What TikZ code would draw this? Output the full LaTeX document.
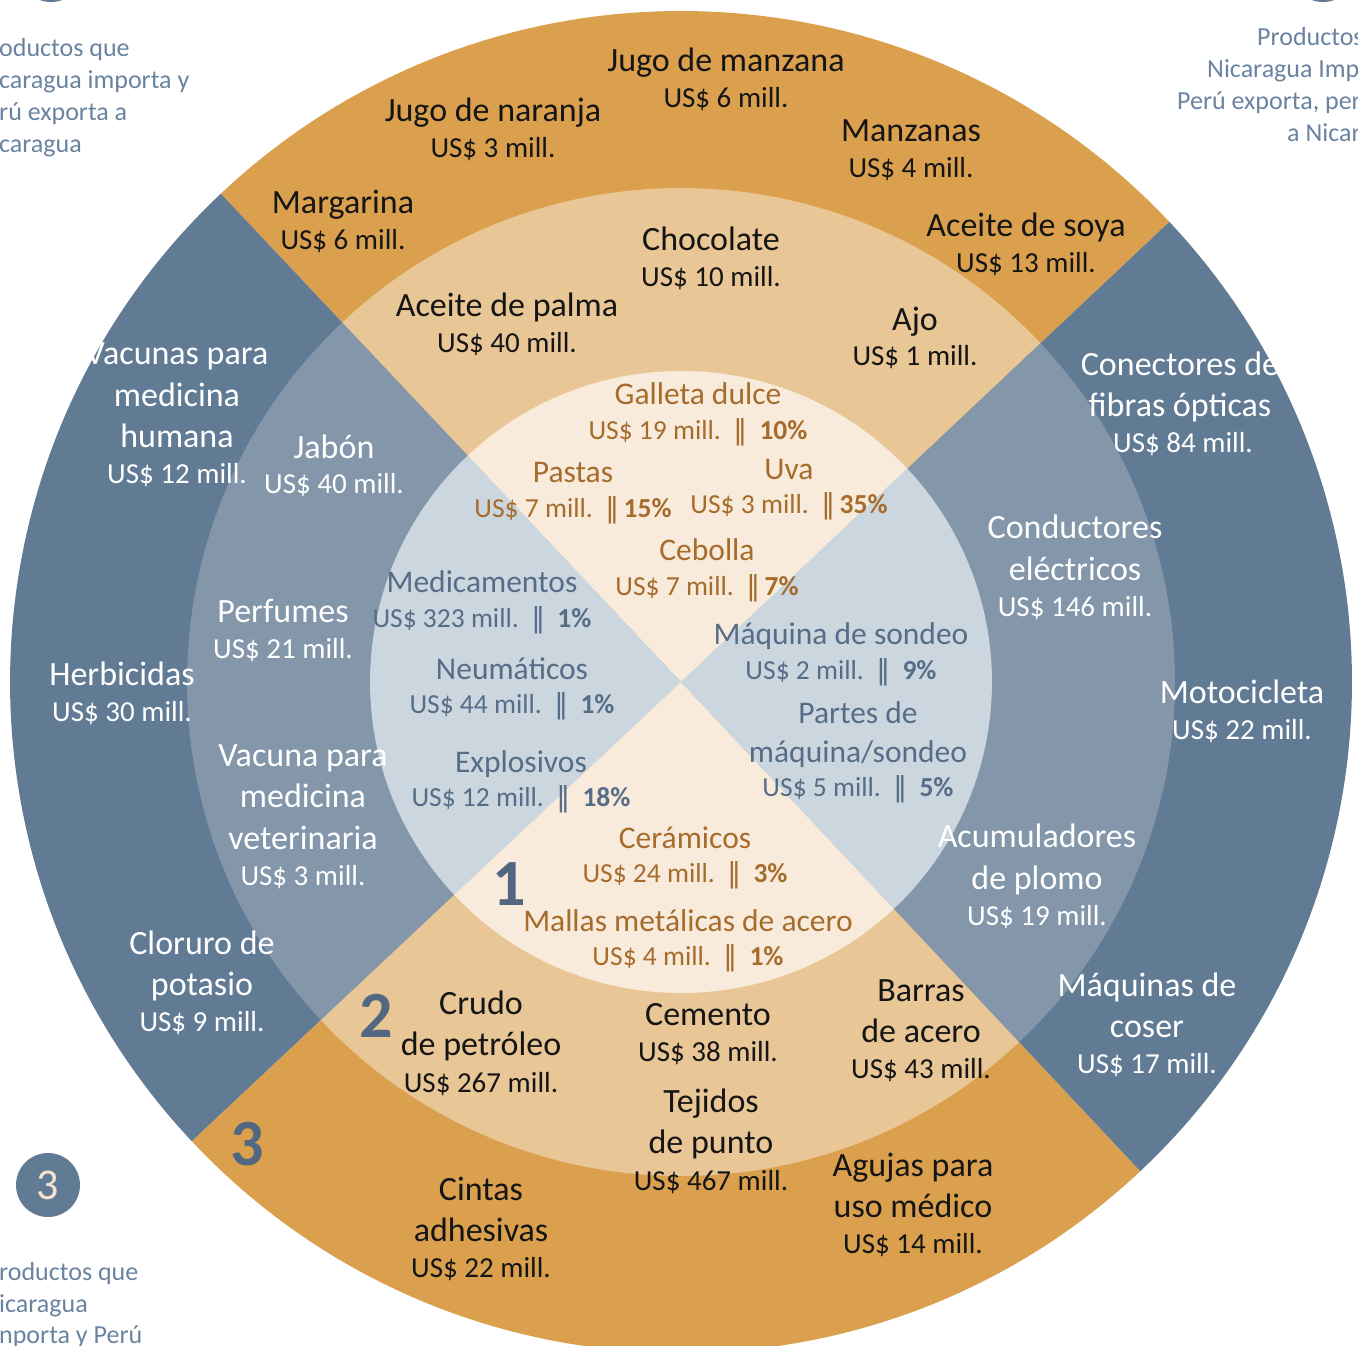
\documentclass[tikz,border=0pt]{standalone}
\usepackage{fontspec}
\setmainfont{Carlito}
\newfontfamily\dvs{DejaVu Sans}
\definecolor{oOut}{HTML}{DAA04D}
\definecolor{bOut}{HTML}{627B95}
\definecolor{oMid}{HTML}{E9C696}
\definecolor{bMid}{HTML}{8396AA}
\definecolor{oIn}{HTML}{F8EBDC}
\definecolor{bIn}{HTML}{CCD6DF}
\definecolor{txtBlack}{HTML}{151515}
\definecolor{txtBrown}{HTML}{A66C2C}
\definecolor{txtSlate}{HTML}{566D87}
\definecolor{numCol}{HTML}{526882}
\definecolor{sideCol}{HTML}{6A83A0}
\definecolor{cream}{HTML}{F2E4D0}
\newcommand\bars{{\dvs ‖}}
\begin{document}
\begin{tikzpicture}[x=1pt,y=1pt,
  lbl/.style={inner sep=0pt, text depth=0pt, anchor=center},
  nm/.style={lbl, text height=22.4pt, font=\fontsize{34}{40}\selectfont},
  vl/.style={lbl, text height=19.1pt, font=\fontsize{29}{34}\selectfont},
  nmi/.style={lbl, text height=20.8pt, font=\fontsize{31.5}{38}\selectfont},
  vli/.style={lbl, text height=18.2pt, font=\fontsize{27.5}{33}\selectfont},
  tblack/.style={text=txtBlack},
  twhite/.style={text=white},
  tbrown/.style={text=txtBrown},
  tslate/.style={text=txtSlate},
  num/.style={inner sep=0pt, text height=41.7pt, text depth=0pt, anchor=center,
    font=\fontsize{66}{70}\selectfont\bfseries, text=numCol},
  side/.style={inner sep=0pt, anchor=west, text height=13pt, text depth=0pt,
    font=\fontsize{26}{30}\selectfont, text=sideCol}
]
\useasboundingbox (0,0) rectangle (1358,-1346);
\clip (0,0) rectangle (1358,-1346);
\fill[white] (0,0) rectangle (1358,-1346);
\coordinate (C) at (681,-682);
% outer ring
\fill[oOut] (C) -- ++(43.3:671) arc[start angle=43.3,end angle=133.3,radius=671] -- cycle;
\fill[bOut] (C) -- ++(133.3:671) arc[start angle=133.3,end angle=223.2,radius=671] -- cycle;
\fill[oOut] (C) -- ++(223.2:671) arc[start angle=223.2,end angle=313.2,radius=671] -- cycle;
\fill[bOut] (C) -- ++(313.2:671) arc[start angle=313.2,end angle=403.3,radius=671] -- cycle;
% middle ring
\fill[oMid] (C) -- ++(43.3:494) arc[start angle=43.3,end angle=133.3,radius=494] -- cycle;
\fill[bMid] (C) -- ++(133.3:494) arc[start angle=133.3,end angle=223.2,radius=494] -- cycle;
\fill[oMid] (C) -- ++(223.2:494) arc[start angle=223.2,end angle=313.2,radius=494] -- cycle;
\fill[bMid] (C) -- ++(313.2:494) arc[start angle=313.2,end angle=403.3,radius=494] -- cycle;
% inner disc
\fill[oIn] (C) -- ++(43.3:311) arc[start angle=43.3,end angle=133.3,radius=311] -- cycle;
\fill[bIn] (C) -- ++(133.3:311) arc[start angle=133.3,end angle=223.2,radius=311] -- cycle;
\fill[oIn] (C) -- ++(223.2:311) arc[start angle=223.2,end angle=313.2,radius=311] -- cycle;
\fill[bIn] (C) -- ++(313.2:311) arc[start angle=313.2,end angle=403.3,radius=311] -- cycle;

% ---------- top outer ----------
\node[nm,tblack] (jm1) at (726,-60) {Jugo de manzana};
\node[vl,tblack] (jm2) at (726,-98) {US\$ 6 mill.};
\node[nm,tblack] (jn1) at (493,-110) {Jugo de naranja};
\node[vl,tblack] (jn2) at (493,-148) {US\$ 3 mill.};
\node[nm,tblack] (mz1) at (911,-130) {Manzanas};
\node[vl,tblack] (mz2) at (911,-168) {US\$ 4 mill.};
\node[nm,tblack] (mg1) at (343,-202) {Margarina};
\node[vl,tblack] (mg2) at (343,-240) {US\$ 6 mill.};
\node[nm,tblack] (so1) at (1026,-225) {Aceite de soya};
\node[vl,tblack] (so2) at (1026,-263) {US\$ 13 mill.};
% ---------- top middle ----------
\node[nm,tblack] (ch1) at (711,-239) {Chocolate};
\node[vl,tblack] (ch2) at (711,-277) {US\$ 10 mill.};
\node[nm,tblack] (pa1) at (507,-305) {Aceite de palma};
\node[vl,tblack] (pa2) at (507,-343) {US\$ 40 mill.};
\node[nm,tblack] (aj1) at (915,-319) {Ajo};
\node[vl,tblack] (aj2) at (915,-356) {US\$ 1 mill.};
% ---------- inner top ----------
\node[nmi,tbrown] (gd1) at (698,-394) {Galleta dulce};
\node[vli,tbrown] (gd2) at (698,-430) {US\$ 19 mill.\ \ \bars\ \ \textbf{10\%}};
\node[nmi,tbrown] (ps1) at (573,-472) {Pastas};
\node[vli,tbrown] (ps2) at (573,-508) {US\$ 7 mill.\ \ \bars\,\textbf{15\%}};
\node[nmi,tbrown] (uv1) at (789,-469) {Uva};
\node[vli,tbrown] (uv2) at (789,-504) {US\$ 3 mill.\ \ \bars\,\textbf{35\%}};
\node[nmi,tbrown] (cb1) at (707,-550) {Cebolla};
\node[vli,tbrown] (cb2) at (707,-586) {US\$ 7 mill.\ \ \bars\,\textbf{7\%}};
% ---------- inner left ----------
\node[nmi,tslate] (md1) at (482,-582) {Medicamentos};
\node[vli,tslate] (md2) at (482,-618) {US\$ 323 mill.\ \ \bars\ \ \textbf{1\%}};
\node[nmi,tslate] (ne1) at (512,-669) {Neumáticos};
\node[vli,tslate] (ne2) at (512,-704) {US\$ 44 mill.\ \ \bars\ \ \textbf{1\%}};
\node[nmi,tslate] (ex1) at (521,-762) {Explosivos};
\node[vli,tslate] (ex2) at (521,-797) {US\$ 12 mill.\ \ \bars\ \ \textbf{18\%}};
% ---------- inner right ----------
\node[nmi,tslate] (ms1) at (841,-634) {Máquina de sondeo};
\node[vli,tslate] (ms2) at (841,-670) {US\$ 2 mill.\ \ \bars\ \ \textbf{9\%}};
\node[nmi,tslate] (pm1) at (858,-713) {Partes de};
\node[nmi,tslate] (pm2) at (858,-752) {máquina/sondeo};
\node[vli,tslate] (pm3) at (858,-787) {US\$ 5 mill.\ \ \bars\ \ \textbf{5\%}};
% ---------- inner bottom ----------
\node[nmi,tbrown] (ce1) at (685,-838) {Cerámicos};
\node[vli,tbrown] (ce2) at (685,-873) {US\$ 24 mill.\ \ \bars\ \ \textbf{3\%}};
\node[nmi,tbrown] (ma1) at (688,-921) {Mallas metálicas de acero};
\node[vli,tbrown] (ma2) at (688,-956) {US\$ 4 mill.\ \ \bars\ \ \textbf{1\%}};
% ---------- middle left ----------
\node[nm,twhite] (jb1) at (334,-447) {Jabón};
\node[vl,twhite] (jb2) at (334,-484) {US\$ 40 mill.};
\node[nm,twhite] (pf1) at (283,-611) {Perfumes};
\node[vl,twhite] (pf2) at (283,-649) {US\$ 21 mill.};
\node[nm,twhite] (vv1) at (303,-755) {Vacuna para};
\node[nm,twhite] (vv2) at (303,-796) {medicina};
\node[nm,twhite] (vv3) at (303,-838) {veterinaria};
\node[vl,twhite] (vv4) at (303,-876) {US\$ 3 mill.};
% ---------- outer left ----------
\node[nm,twhite] (vh1) at (177,-353) {Vacunas para};
\node[nm,twhite] (vh2) at (177,-395) {medicina};
\node[nm,twhite] (vh3) at (177,-436) {humana};
\node[vl,twhite] (vh4) at (177,-474) {US\$ 12 mill.};
\node[nm,twhite] (hb1) at (122,-674) {Herbicidas};
\node[vl,twhite] (hb2) at (122,-712) {US\$ 30 mill.};
\node[nm,twhite] (cl1) at (202,-943) {Cloruro de};
\node[nm,twhite] (cl2) at (202,-984) {potasio};
\node[vl,twhite] (cl3) at (202,-1022) {US\$ 9 mill.};
% ---------- middle right ----------
\node[nm,twhite] (co1) at (1075,-527) {Conductores};
\node[nm,twhite] (co2) at (1075,-569) {eléctricos};
\node[vl,twhite] (co3) at (1075,-607) {US\$ 146 mill.};
\node[nm,twhite] (ac1) at (1037,-836) {Acumuladores};
\node[nm,twhite] (ac2) at (1037,-878) {de plomo};
\node[vl,twhite] (ac3) at (1037,-916) {US\$ 19 mill.};
% ---------- outer right ----------
\node[nm,twhite] (cf1) at (1180,-364) {Conectores de};
\node[nm,twhite] (cf2) at (1180,-405) {fibras ópticas};
\node[vl,twhite] (cf3) at (1183,-443) {US\$ 84 mill.};
\node[nm,twhite] (mt1) at (1242,-692) {Motocicleta};
\node[vl,twhite] (mt2) at (1242,-730) {US\$ 22 mill.};
\node[nm,twhite] (mq1) at (1147,-985) {Máquinas de};
\node[nm,twhite] (mq2) at (1147,-1026) {coser};
\node[vl,twhite] (mq3) at (1147,-1064) {US\$ 17 mill.};
% ---------- bottom middle ----------
\node[nm,tblack] (cr1) at (481,-1003) {Crudo};
\node[nm,tblack] (cr2) at (481,-1044) {de petróleo};
\node[vl,tblack] (cr3) at (481,-1083) {US\$ 267 mill.};
\node[nm,tblack] (cm1) at (708,-1014) {Cemento};
\node[vl,tblack] (cm2) at (708,-1052) {US\$ 38 mill.};
\node[nm,tblack] (ba1) at (921,-990) {Barras};
\node[nm,tblack] (ba2) at (921,-1031) {de acero};
\node[vl,tblack] (ba3) at (921,-1069) {US\$ 43 mill.};
\node[nm,tblack] (tj1) at (711,-1101) {Tejidos};
\node[nm,tblack] (tj2) at (711,-1142) {de punto};
\node[vl,tblack] (tj3) at (711,-1181) {US\$ 467 mill.};
% ---------- bottom outer ----------
\node[nm,tblack] (ci1) at (481,-1189) {Cintas};
\node[nm,tblack] (ci2) at (481,-1230) {adhesivas};
\node[vl,tblack] (ci3) at (481,-1268) {US\$ 22 mill.};
\node[nm,tblack] (ag1) at (913,-1165) {Agujas para};
\node[nm,tblack] (ag2) at (913,-1206) {uso médico};
\node[vl,tblack] (ag3) at (913,-1244) {US\$ 14 mill.};
% ---------- ring numbers ----------
\node[num] (n1) at (509,-885) {1};
\node[num] (n2) at (376,-1017) {2};
\node[num] (n3) at (247,-1145) {3};
% ---------- legend fragments ----------
\fill[bOut] (51,30) circle[radius=32];
\fill[bOut] (1323,30) circle[radius=32];
\node[circle, fill=bOut, minimum size=64pt, inner sep=0pt, text=cream,
  font=\fontsize{44}{48}\selectfont] (c3) at (48,-1185) {3};
\node[side] (tl1) at (-1,-50) {oductos que};
\node[side] (tl2) at (-1,-82) {caragua importa y};
\node[side] (tl3) at (-1,-114) {rú exporta a};
\node[side] (tl4) at (-1,-146) {caragua};
\node[side] (tr1) at (1257,-39) {Productos};
\node[side] (tr2) at (1207,-71) {Nicaragua Imp};
\node[side] (tr3) at (1177,-103) {Perú exporta, per};
\node[side] (tr4) at (1287,-135) {a Nicar};
\node[side] (bl1) at (-1,-1274) {roductos que};
\node[side] (bl2) at (-1,-1306) {icaragua};
\node[side] (bl3) at (-1,-1337) {nporta y Perú};
\end{tikzpicture}
\end{document}
